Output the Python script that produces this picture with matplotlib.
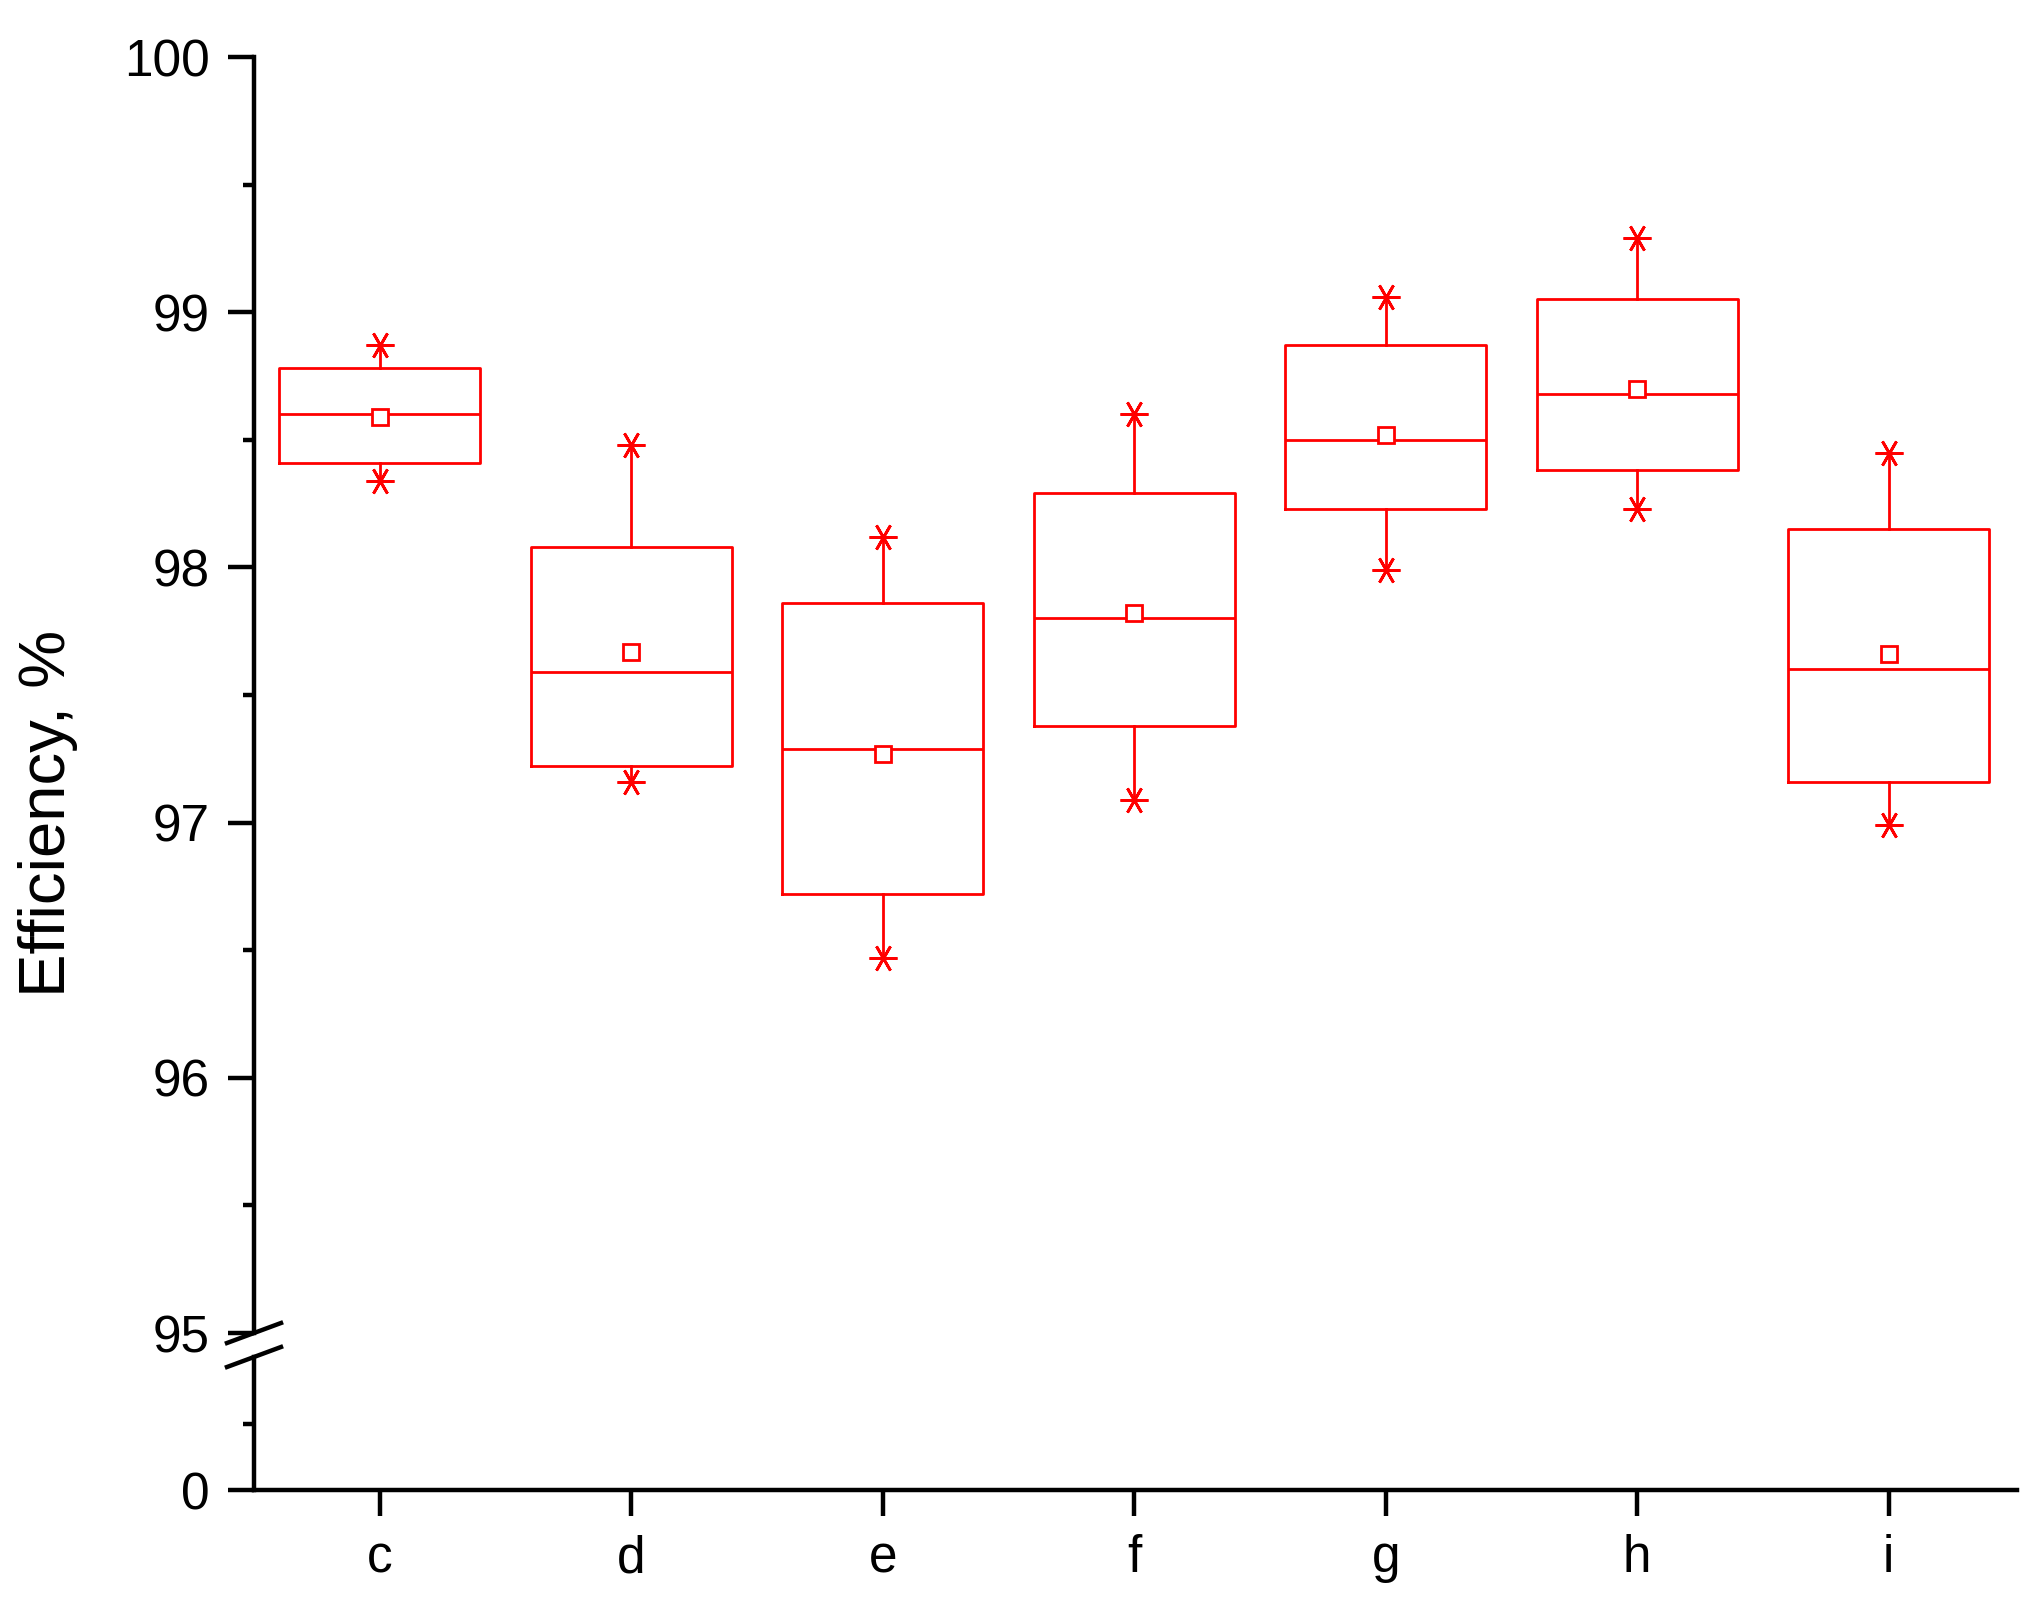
import matplotlib
matplotlib.use('Agg')
import matplotlib.pyplot as plt
from matplotlib.lines import Line2D

plt.rcParams['font.family'] = ['Liberation Sans', 'DejaVu Sans']

# Данные
groups = ['c', 'd', 'e', 'f', 'g', 'h', 'i']
q1 = [98.41, 97.22, 96.72, 97.38, 98.23, 98.38, 97.16]
q3 = [98.78, 98.08, 97.86, 98.29, 98.87, 99.05, 98.15]
medians = [98.60, 97.59, 97.29, 97.80, 98.50, 98.68, 97.60]
means = [98.59, 97.67, 97.27, 97.82, 98.52, 98.70, 97.66]
mins = [98.34, 97.16, 96.47, 97.09, 97.99, 98.23, 96.99]
maxs = [98.87, 98.48, 98.12, 98.60, 99.06, 99.29, 98.45]

red = '#ff0000'
W, H = 2040, 1610
fig = plt.figure(figsize=(W / 100, H / 100), dpi=100)

left, right = 254 / W, 2017 / W
ax_top = fig.add_axes([left, 1 - 1333 / H, right - left, (1333 - 57) / H])
ax_bot = fig.add_axes([left, 1 - 1490 / H, right - left, (1490 - 1357) / H])

stats = []
for i in range(len(groups)):
    stats.append({'med': medians[i], 'q1': q1[i], 'q3': q3[i],
                  'whislo': mins[i], 'whishi': maxs[i], 'mean': means[i],
                  'fliers': [mins[i], maxs[i]], 'label': groups[i]})

pos = list(range(1, len(groups) + 1))
ax_top.bxp(stats, positions=pos, widths=0.8, showmeans=True, showcaps=False,
           boxprops=dict(color=red, linewidth=2),
           medianprops=dict(color=red, linewidth=2),
           whiskerprops=dict(color=red, linewidth=2),
           meanprops=dict(marker='s', markerfacecolor='white', markeredgecolor=red,
                          markersize=11, markeredgewidth=2),
           flierprops=dict(marker=(6, 2, 90), markeredgecolor=red, markerfacecolor=red,
                           markersize=20, markeredgewidth=2, linestyle='none'))

for ax in (ax_top, ax_bot):
    ax.set_xlim(0.5, 7.51)
    ax.spines['top'].set_visible(False)
    ax.spines['right'].set_visible(False)
    ax.spines['left'].set_linewidth(3.2)
    ax.spines['bottom'].set_linewidth(3.2)
    ax.tick_params(axis='both', which='major', direction='out', length=19, width=3.2,
                   labelsize=37, pad=13)
    ax.tick_params(axis='both', which='minor', direction='out', length=8, width=3.2)

ax_top.set_ylim(95, 100)
ax_top.set_yticks([95, 96, 97, 98, 99, 100])
ax_top.set_yticks([95.5, 96.5, 97.5, 98.5, 99.5], minor=True)
ax_top.spines['bottom'].set_visible(False)
ax_top.tick_params(axis='x', which='both', bottom=False, labelbottom=False)

ax_bot.set_ylim(0, 100)
ax_bot.set_yticks([0])
ax_bot.set_yticks([50], minor=True)
ax_bot.set_xticks(pos)
ax_bot.set_xticklabels(groups)
ax_bot.tick_params(axis='x', pad=13)

# Значки разрыва оси
dx, dy = 27 / W, 10 / H
for yc in (1 - 1333 / H, 1 - 1357 / H):
    fig.add_artist(Line2D([left - dx, left + dx], [yc - dy, yc + dy],
                          color='black', linewidth=3.2))

fig.text(48 / W, 1 - 813 / H, 'Efficiency, %', rotation=90,
         fontsize=47, ha='center', va='center')

fig.savefig('out.png', dpi=100)
